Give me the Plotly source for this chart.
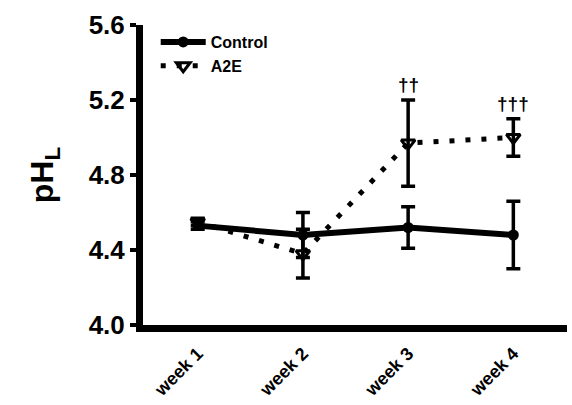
import plotly.graph_objects as go

weeks = ["week 1", "week 2", "week 3", "week 4"]
control = [4.53, 4.48, 4.52, 4.48]
control_err = [0.02, 0.12, 0.11, 0.18]
a2e = [4.55, 4.38, 4.97, 5.00]
a2e_err = [0.02, 0.13, 0.23, 0.10]
sig_labels = ["", "", "††", "†††"]
y_ticks = [4.0, 4.4, 4.8, 5.2, 5.6]

FONT = "Liberation Sans"

fig = go.Figure()
fig.add_trace(go.Scatter(
    x=weeks, y=a2e, name="<b>A2E</b>", mode="lines+markers",
    line=dict(color="black", width=5, dash="5px,11px"),
    marker=dict(symbol="triangle-down-open", size=12, color="black", line=dict(width=3)),
    error_y=dict(type="data", array=a2e_err, color="black", thickness=3.5, width=7),
))
fig.add_trace(go.Scatter(
    x=weeks, y=control, name="<b>Control</b>", mode="lines+markers",
    line=dict(color="black", width=6),
    marker=dict(symbol="circle", size=11, color="black"),
    error_y=dict(type="data", array=control_err, color="black", thickness=3.5, width=7),
))

for w, v, e, s in zip(weeks, a2e, a2e_err, sig_labels):
    if s:
        fig.add_annotation(x=w, y=v + e, text="<b>" + s + "</b>", showarrow=False,
                           yanchor="bottom", yshift=3,
                           font=dict(family=FONT, size=19, color="black"))

fig.update_layout(
    width=572, height=405,
    margin=dict(l=143, r=5, t=25, b=80),
    paper_bgcolor="white", plot_bgcolor="white",
    showlegend=True,
    legend=dict(x=0.03, y=1.0, xanchor="left", yanchor="top",
                traceorder="reversed", itemwidth=45,
                font=dict(family=FONT, size=16, color="black"),
                bgcolor="rgba(0,0,0,0)"),
    xaxis=dict(
        type="category", range=[-0.52, 3.51],
        showline=True, linecolor="black", linewidth=7,
        ticks="outside", ticklen=4, tickcolor="rgba(0,0,0,0)", tickangle=-45,
        tickfont=dict(family=FONT, size=18, color="black"),
        tickprefix="<b>", ticksuffix="</b>",
        showgrid=False, zeroline=False,
    ),
    yaxis=dict(
        range=[4.0, 5.6], tickvals=y_ticks,
        ticktext=["<b>%.1f</b>" % v for v in y_ticks],
        showline=True, linecolor="black", linewidth=7,
        ticks="outside", ticklen=6, tickwidth=4, tickcolor="black",
        tickfont=dict(family=FONT, size=26, color="black"),
        showgrid=False, zeroline=False,
        title=dict(text="<b>pH<sub>L</sub></b>", font=dict(family=FONT, size=32, color="black"), standoff=28),
    ),
)

fig.write_html("out.html")
